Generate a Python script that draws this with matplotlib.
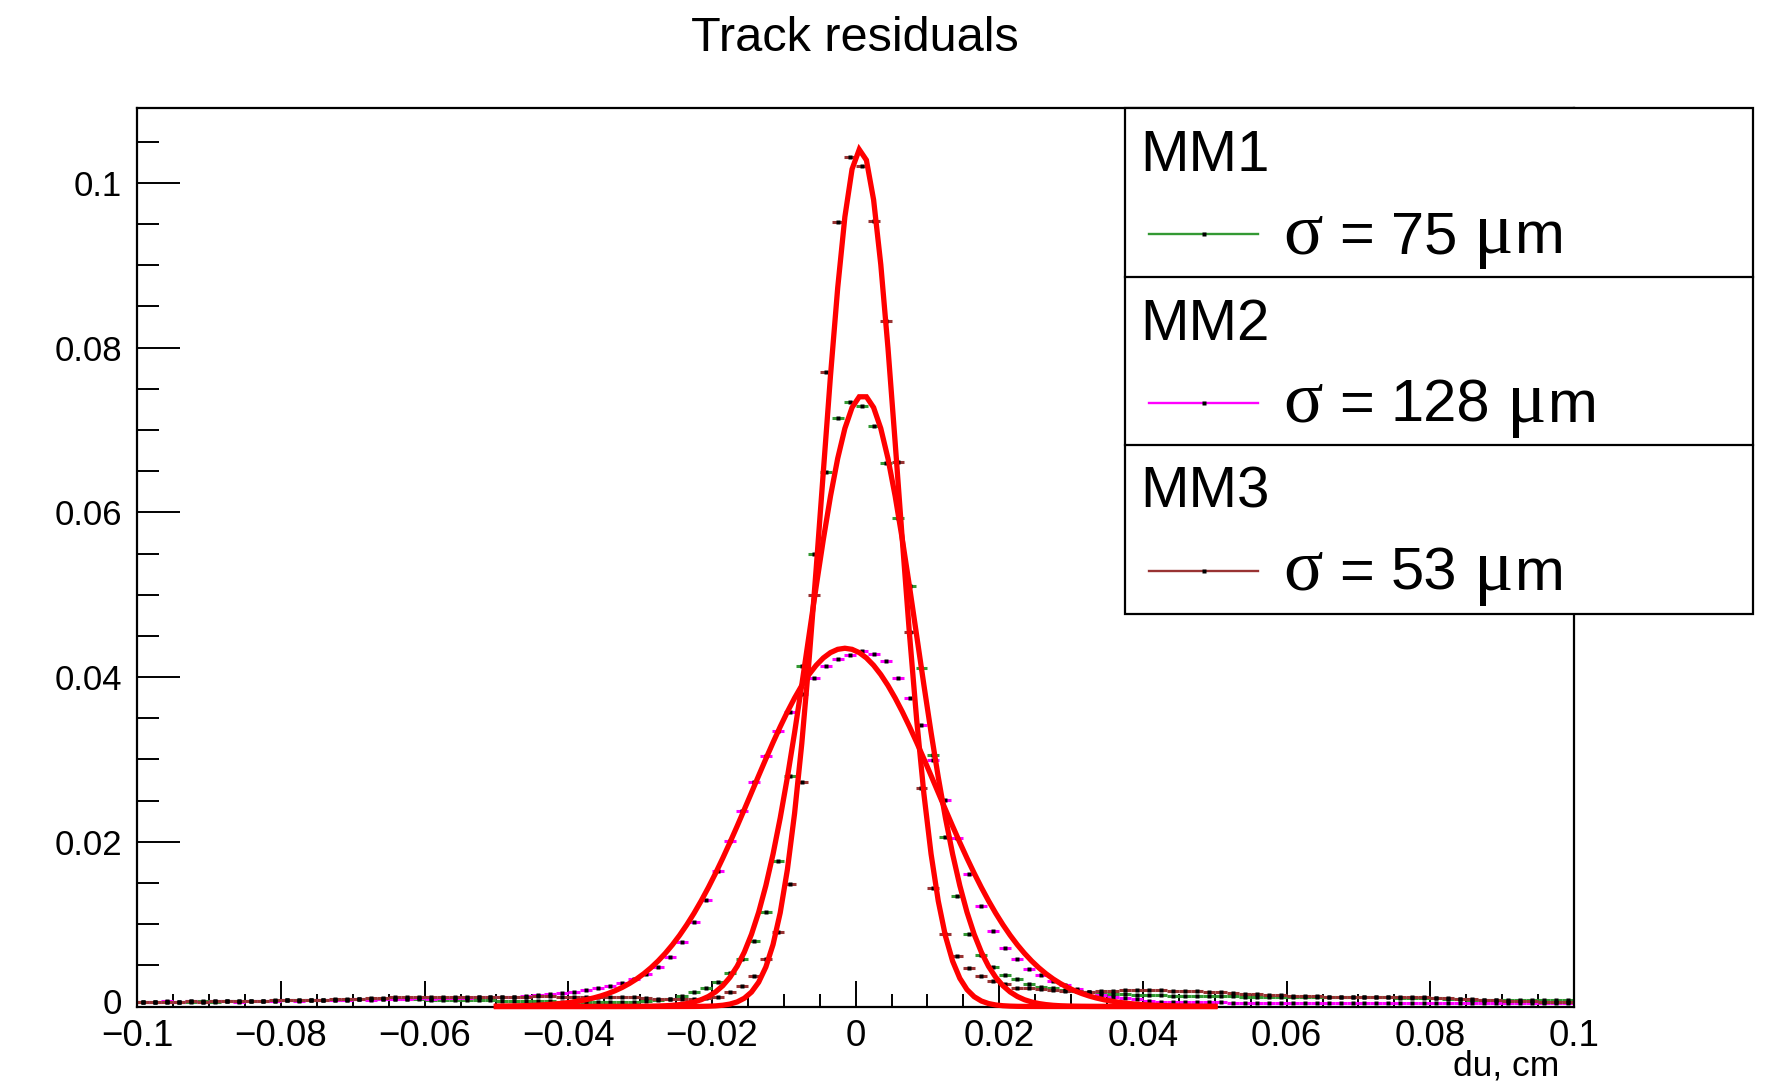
import numpy as np
import matplotlib
matplotlib.use('Agg')
import matplotlib.pyplot as plt
from matplotlib.patches import Rectangle
from matplotlib.lines import Line2D
from matplotlib.transforms import ScaledTranslation

# ---------------- data ----------------
x_min, x_max, n_bins = -0.1, 0.1, 120

mm1_vals = [
    0.0006, 0.0006, 0.0006, 0.0006, 0.0006, 0.0007, 0.0006, 0.0007, 0.0007, 0.0007,
    0.0007, 0.0007, 0.0008, 0.0008, 0.0008, 0.0008, 0.0008, 0.0008, 0.0009, 0.0009,
    0.0009, 0.0009, 0.0009, 0.0009, 0.0008, 0.0008, 0.0008, 0.0008, 0.0008, 0.0008,
    0.0007, 0.0007, 0.0007, 0.0007, 0.0007, 0.0006, 0.0006, 0.0006, 0.0006, 0.0006,
    0.0006, 0.0006, 0.0007, 0.0008, 0.0009, 0.0013, 0.0017, 0.0023, 0.0030, 0.0041,
    0.0058, 0.0079, 0.0115, 0.0177, 0.0280, 0.0414, 0.0550, 0.0649, 0.0715, 0.0734,
    0.0729, 0.0705, 0.0660, 0.0593, 0.0510, 0.0411, 0.0305, 0.0206, 0.0134, 0.0088,
    0.0063, 0.0048, 0.0038, 0.0033, 0.0027, 0.0024, 0.0022, 0.0020, 0.0019, 0.0017,
    0.0016, 0.0015, 0.0015, 0.0014, 0.0014, 0.0014, 0.0013, 0.0013, 0.0013, 0.0013,
    0.0013, 0.0013, 0.0012, 0.0012, 0.0012, 0.0012, 0.0012, 0.0012, 0.0011, 0.0011,
    0.0011, 0.0011, 0.0011, 0.0011, 0.0011, 0.0010, 0.0010, 0.0010, 0.0010, 0.0009,
    0.0009, 0.0008, 0.0008, 0.0008, 0.0008, 0.0008, 0.0008, 0.0008, 0.0008, 0.0008,
]

mm2_vals = [
    0.0006, 0.0006, 0.0007, 0.0006, 0.0007, 0.0006, 0.0007, 0.0007, 0.0006, 0.0007,
    0.0007, 0.0007, 0.0008, 0.0007, 0.0008, 0.0008, 0.0008, 0.0008, 0.0009, 0.0008,
    0.0009, 0.0009, 0.0009, 0.0010, 0.0009, 0.0010, 0.0010, 0.0010, 0.0011, 0.0011,
    0.0012, 0.0012, 0.0013, 0.0014, 0.0015, 0.0016, 0.0018, 0.0020, 0.0022, 0.0025,
    0.0029, 0.0033, 0.0039, 0.0048, 0.0060, 0.0078, 0.0102, 0.0129, 0.0164, 0.0201,
    0.0237, 0.0272, 0.0304, 0.0335, 0.0357, 0.0380, 0.0399, 0.0413, 0.0422, 0.0427,
    0.0432, 0.0428, 0.0419, 0.0399, 0.0374, 0.0342, 0.0299, 0.0251, 0.0204, 0.0161,
    0.0122, 0.0092, 0.0071, 0.0058, 0.0046, 0.0038, 0.0031, 0.0026, 0.0021, 0.0018,
    0.0014, 0.0012, 0.0010, 0.0009, 0.0007, 0.0006, 0.0005, 0.0005, 0.0005, 0.0005,
    0.0005, 0.0004, 0.0004, 0.0004, 0.0004, 0.0004, 0.0004, 0.0004, 0.0004, 0.0004,
    0.0004, 0.0004, 0.0004, 0.0004, 0.0004, 0.0004, 0.0004, 0.0004, 0.0004, 0.0004,
    0.0004, 0.0004, 0.0004, 0.0004, 0.0004, 0.0004, 0.0004, 0.0004, 0.0004, 0.0004,
]

mm3_vals = [
    0.0006, 0.0006, 0.0006, 0.0006, 0.0007, 0.0006, 0.0007, 0.0007, 0.0007, 0.0007,
    0.0007, 0.0008, 0.0008, 0.0008, 0.0008, 0.0008, 0.0009, 0.0009, 0.0009, 0.0010,
    0.0010, 0.0011, 0.0011, 0.0011, 0.0012, 0.0012, 0.0012, 0.0012, 0.0012, 0.0012,
    0.0012, 0.0012, 0.0012, 0.0013, 0.0013, 0.0012, 0.0012, 0.0012, 0.0012, 0.0012,
    0.0012, 0.0011, 0.0010, 0.0009, 0.0009, 0.0009, 0.0009, 0.0010, 0.0012, 0.0017,
    0.0025, 0.0037, 0.0058, 0.0091, 0.0149, 0.0273, 0.0500, 0.0770, 0.0952, 0.1032,
    0.1020, 0.0954, 0.0832, 0.0661, 0.0455, 0.0265, 0.0144, 0.0088, 0.0061, 0.0047,
    0.0037, 0.0031, 0.0027, 0.0023, 0.0022, 0.0021, 0.0020, 0.0019, 0.0019, 0.0018,
    0.0019, 0.0019, 0.0020, 0.0020, 0.0020, 0.0020, 0.0019, 0.0019, 0.0019, 0.0018,
    0.0017, 0.0016, 0.0015, 0.0015, 0.0014, 0.0014, 0.0013, 0.0013, 0.0013, 0.0012,
    0.0012, 0.0012, 0.0012, 0.0012, 0.0011, 0.0011, 0.0011, 0.0011, 0.0010, 0.0010,
    0.0009, 0.0009, 0.0008, 0.0008, 0.0007, 0.0007, 0.0007, 0.0006, 0.0006, 0.0006,
]

series_names = ["MM1", "MM2", "MM3"]
series_labels = ["75", "128", "53"]          # sigma in micrometres
series_colors = ["#339933", "#ff00ff", "#993333"]

# Gaussian fit results (amplitude, mean [cm], sigma [cm])
fit_amp = [0.0742, 0.0435, 0.1041]
fit_mean = [0.0010, -0.0015, 0.00065]
fit_sigma = [0.0075, 0.0128, 0.0053]
fit_lo, fit_hi = -0.05, 0.05

xtick_vals = [-0.1, -0.08, -0.06, -0.04, -0.02, 0.0, 0.02, 0.04, 0.06, 0.08, 0.1]
xtick_labels = ["\u22120.1", "\u22120.08", "\u22120.06", "\u22120.04", "\u22120.02",
                "0", "0.02", "0.04", "0.06", "0.08", "0.1"]
ytick_vals = [0.0, 0.02, 0.04, 0.06, 0.08, 0.1]
ytick_labels = ["0", "0.02", "0.04", "0.06", "0.08", "0.1"]

title = "Track residuals"
xlabel = "du, cm"

# ---------------- figure ----------------
W, H = 1788, 1086
plt.rcParams['font.family'] = ['Liberation Sans', 'DejaVu Sans']
fig = plt.figure(figsize=(W / 100, H / 100), dpi=100)

L, R, T, B = 137.3, 1574.0, 108.0, 1006.5
ax = fig.add_axes([L / W, (H - B) / H, (R - L) / W, (B - T) / H])
ax.set_xlim(x_min, x_max)
ax.set_ylim(0, 0.1091)

edges = np.linspace(x_min, x_max, n_bins + 1)
centers = 0.5 * (edges[:-1] + edges[1:])

for vals, col in zip([mm1_vals, mm2_vals, mm3_vals], series_colors):
    v = np.asarray(vals)
    ax.hlines(v, edges[:-1], edges[1:], colors=col, lw=2.2, zorder=2)
    ax.plot(centers, v, ls='none', marker='s', ms=2.8, mec='none', mfc='k', zorder=2.2)

xf = np.concatenate([[fit_lo], np.arange(fit_lo + 0.0005, fit_hi, 0.001), [fit_hi]])
for a, m, s in zip(fit_amp, fit_mean, fit_sigma):
    ax.plot(xf, a * np.exp(-0.5 * ((xf - m) / s) ** 2), color='red', lw=3.8,
            zorder=3, clip_on=False, solid_joinstyle='miter')

for sp in ax.spines.values():
    sp.set_linewidth(1.6)
    sp.set_zorder(2.5)

ax.set_xticks(xtick_vals)
ax.set_xticklabels(xtick_labels)
ax.set_xticks(np.arange(-0.1, 0.1001, 0.005), minor=True)
ax.set_yticks(ytick_vals)
ax.set_yticklabels(ytick_labels)
ax.set_yticks(np.arange(0, 0.1091, 0.005), minor=True)
ax.tick_params(axis='both', which='both', direction='in', top=False, right=False,
               width=1.4)
ax.tick_params(axis='x', which='major', length=19, pad=9, labelsize=26.5)
ax.tick_params(axis='x', which='minor', length=9.5)
ax.tick_params(axis='y', which='major', length=31, pad=11, labelsize=25)
ax.tick_params(axis='y', which='minor', length=16)

# nudge the "0" y label up slightly so it does not collide with the "-0.1" x label
zero_lab = ax.get_yticklabels()[0]
zero_lab.set_transform(zero_lab.get_transform() +
                       ScaledTranslation(0, 5 / 100, fig.dpi_scale_trans))

fig.text(855 / W, 1 - 51 / H, title, ha='center', va='baseline', fontsize=35)
fig.text(1559 / W, 1 - 1076 / H, xlabel, ha='right', va='baseline', fontsize=25.5)

# ---------------- legend ----------------
renderer = fig.canvas.get_renderer()
lx0, lx1 = 1125, 1753
row_tops = [108, 276.5, 445]
row_h = 168.5
fs_leg = 43
fs_greek = 53
space_px = 0.278 * fs_leg * 100 / 72


def fxy(x, y):
    return x / W, 1 - y / H


fig.patches.append(Rectangle(fxy(lx0, row_tops[0] + 3 * row_h), (lx1 - lx0) / W, 3 * row_h / H,
                             transform=fig.transFigure, facecolor='white', edgecolor='black',
                             lw=1.6, zorder=5))
for k in range(1, 3):
    y = row_tops[0] + k * row_h
    fig.lines.append(Line2D([lx0 / W, lx1 / W], [1 - y / H, 1 - y / H],
                            transform=fig.transFigure, color='black', lw=1.6, zorder=6))

for name, lab, col, top in zip(series_names, series_labels, series_colors, row_tops):
    fig.text(*fxy(1140, top + 63), name, fontsize=42, ha='left', va='baseline', zorder=7)
    ly = 1 - (top + 126) / H
    fig.lines.append(Line2D([1149 / W, 1258 / W], [ly, ly], transform=fig.transFigure,
                            color=col, lw=1.7, zorder=7))
    fig.lines.append(Line2D([1203.5 / W], [ly], transform=fig.transFigure, ls='none',
                            marker='s', ms=2.5, mec='none', mfc='k', zorder=8))
    parts = [("\u03c3", 'Liberation Serif', fs_greek, space_px),
             ("=", 'Liberation Sans', fs_leg, space_px),
             (lab, 'Liberation Sans', fs_leg, space_px),
             ("\u03bc", 'Liberation Serif', fs_greek, 1.0),
             ("m", 'Liberation Sans', fs_leg, 0.0)]
    cur = 1283
    for txt, fam, fs, gap in parts:
        t = fig.text(cur / W, 1 - (top + 145) / H, txt, fontsize=fs, family=fam,
                     ha='left', va='baseline', zorder=7)
        bb = t.get_window_extent(renderer)
        cur += bb.width + gap

fig.savefig('out.png', dpi=100)
